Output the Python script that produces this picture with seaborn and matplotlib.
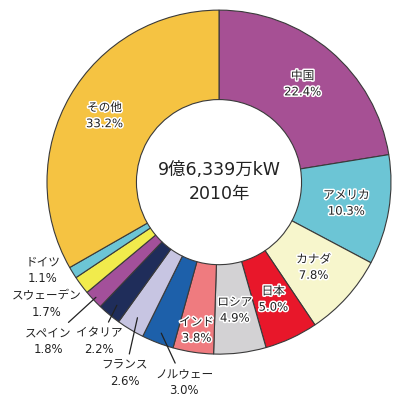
import numpy as np
import matplotlib
matplotlib.use('Agg')
import matplotlib.pyplot as plt
import matplotlib.patheffects as pe
import seaborn as sns

# data (clockwise from 12 o'clock)
countries = ['中国', 'アメリカ', 'カナダ', '日本', 'ロシア', 'インド', 'ノルウェー',
             'フランス', 'イタリア', 'スペイン', 'スウェーデン', 'ドイツ', 'その他']
shares = [22.4, 10.3, 7.8, 5.0, 4.9, 3.8, 3.0, 2.6, 2.2, 1.8, 1.7, 1.1, 33.2]
colors = ['#A65094', '#6CC5D5', '#F7F6CC', '#E8172A', '#D3D2D4', '#EF7B7F', '#1D60AA',
          '#C7C5E2', '#1F2D5A', '#A3509A', '#F1EB4C', '#6CC5D5', '#F5C342']
center_text = '9億6,339万kW\n2010年'

sns.set_theme(style='white')
plt.rcParams['font.family'] = ['DejaVu Sans', 'Noto Sans CJK JP']

fig = plt.figure(figsize=(4.0, 3.97), dpi=100)
ax = fig.add_axes([0.1175, 0.108, 0.86, 0.8665])

wedges, _ = ax.pie(shares, colors=colors, startangle=90, counterclock=False,
                   radius=1.0,
                   wedgeprops=dict(width=0.52, edgecolor='#3a3a3a', linewidth=0.8))
ax.set_xlim(-1, 1)
ax.set_ylim(-1, 1)
ax.set_aspect('auto')
ax.axis('off')

halo = [pe.withStroke(linewidth=2.2, foreground='white')]

# mid angles of each wedge
cum = np.cumsum([0] + shares[:-1]) + np.array(shares) / 2
total = sum(shares)
mid = np.deg2rad(90 - cum / total * 360)

inside = {'中国': 0.75, 'アメリカ': 0.75, 'カナダ': 0.74, '日本': 0.75,
          'ロシア': 0.75, 'インド': 0.87, 'その他': 0.77}
fs = 8.4
ls = 1.3
for i, name in enumerate(countries):
    label = f'{name}\n{shares[i]:.1f}%'
    if name in inside:
        r = inside[name]
        ax.text(r * np.cos(mid[i]), r * np.sin(mid[i]), label, ha='center', va='center',
                fontsize=fs, color='#222222', linespacing=ls, path_effects=halo)

# outside labels (pixel positions of text centers)
def px(x, y):
    return ((x - 219) / 172, (182 - y) / 172)

outside = {'ドイツ': (43, 270, None), 'スウェーデン': (47, 304, None),
           'スペイン': (48, 341, 0.98), 'イタリア': (99, 341, 0.93),
           'フランス': (125, 373, 0.92), 'ノルウェー': (184, 382, 0.94)}
for name, (x, y, r) in outside.items():
    i = countries.index(name)
    label = f'{name}\n{shares[i]:.1f}%'
    tx, ty = px(x, y)
    if r is None:
        ax.text(tx, ty, label, ha='center', va='center', fontsize=fs,
                color='#222222', linespacing=ls)
    else:
        ax.annotate(label, xy=(r * np.cos(mid[i]), r * np.sin(mid[i])), xytext=(tx, ty),
                    ha='center', va='center', fontsize=fs, color='#222222',
                    linespacing=ls,
                    arrowprops=dict(arrowstyle='-', color='#222222', lw=0.9,
                                    shrinkA=1, shrinkB=0))

ax.text(0.0, 0.0, center_text, ha='center', va='center', fontsize=12.5,
        color='#222222', linespacing=1.45)

fig.savefig('out.png', dpi=100, facecolor='white')
